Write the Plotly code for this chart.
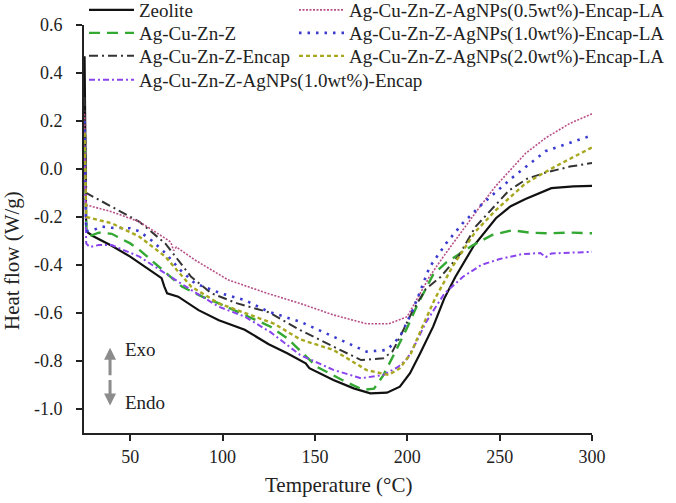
import plotly.graph_objects as go

# ---------------- data ----------------
zeolite_T = [25.3, 25.6, 26.2, 30, 40, 50, 60, 67, 68.5, 70, 76, 87, 98, 112, 125, 135, 145, 147, 160, 171, 180, 189, 196, 201.5, 207, 214, 220, 226, 236, 248, 256, 264, 278, 290, 300]
zeolite_V = [0.47, 0.1, -0.26, -0.28, -0.32, -0.365, -0.42, -0.455, -0.49, -0.518, -0.532, -0.588, -0.63, -0.67, -0.73, -0.768, -0.81, -0.83, -0.879, -0.914, -0.935, -0.932, -0.907, -0.851, -0.768, -0.657, -0.54, -0.45, -0.32, -0.205, -0.155, -0.125, -0.08, -0.072, -0.07]

agcuzn_T = [25.3, 25.7, 26.3, 28, 33, 40, 50, 55, 65, 78, 89, 98, 112, 126, 135, 151, 165, 176, 182, 187, 193, 200, 205, 214, 221, 235, 246, 257, 266, 277, 288, 300]
agcuzn_V = [0.16, -0.05, -0.27, -0.28, -0.265, -0.27, -0.31, -0.337, -0.405, -0.49, -0.532, -0.56, -0.608, -0.657, -0.705, -0.824, -0.88, -0.92, -0.915, -0.86, -0.77, -0.66, -0.574, -0.44, -0.39, -0.32, -0.275, -0.255, -0.265, -0.268, -0.265, -0.268]

encap_T = [25.3, 25.7, 26.2, 40, 55, 69, 76, 83, 94, 108, 125, 142, 160, 175, 187, 192, 196, 203, 210, 218, 228, 237, 255, 265, 275, 288, 300]
encap_V = [0.3, 0.05, -0.10, -0.157, -0.22, -0.31, -0.38, -0.449, -0.518, -0.56, -0.597, -0.671, -0.74, -0.796, -0.789, -0.76, -0.70, -0.59, -0.50, -0.45, -0.36, -0.24, -0.09, -0.04, -0.015, 0.01, 0.025]

agnps_T = [25.3, 25.7, 26.2, 28, 33, 40, 55, 69, 83, 98, 112, 126, 142, 160, 175, 187, 195, 200, 205, 210, 220, 230, 240, 250, 262, 272, 275, 278, 290, 300]
agnps_V = [0.05, -0.1, -0.31, -0.325, -0.317, -0.317, -0.365, -0.435, -0.504, -0.574, -0.615, -0.68, -0.775, -0.837, -0.872, -0.858, -0.825, -0.79, -0.72, -0.64, -0.52, -0.45, -0.40, -0.375, -0.355, -0.35, -0.367, -0.352, -0.347, -0.345]

la05_T = [25.3, 25.7, 26.2, 40, 55, 69, 72, 73.5, 75, 85, 103, 125, 142, 160, 178, 190, 200, 207, 212, 220, 230, 240, 248, 264, 275, 288, 300]
la05_V = [0.23, 0.0, -0.15, -0.178, -0.22, -0.289, -0.305, -0.34, -0.325, -0.379, -0.462, -0.52, -0.56, -0.608, -0.645, -0.645, -0.615, -0.518, -0.449, -0.36, -0.254, -0.15, -0.07, 0.065, 0.13, 0.19, 0.23]

la10_T = [25.3, 25.7, 26.2, 30, 35, 40, 50, 55, 62, 69, 77, 85, 99, 112, 125, 142, 160, 178, 189, 196, 203, 212, 221, 230, 240, 257, 275, 288, 300]
la10_V = [0.2, -0.05, -0.26, -0.254, -0.24, -0.245, -0.247, -0.26, -0.30, -0.35, -0.42, -0.476, -0.518, -0.546, -0.595, -0.636, -0.699, -0.761, -0.754, -0.699, -0.588, -0.41, -0.31, -0.226, -0.15, -0.035, 0.075, 0.11, 0.14]

la20_T = [25.3, 25.7, 26.2, 40, 55, 69, 83, 98, 112, 128, 142, 160, 178, 190, 196, 202, 208, 215, 225, 237, 248, 264, 280, 300]
la20_V = [0.15, -0.02, -0.2, -0.226, -0.282, -0.365, -0.49, -0.56, -0.601, -0.645, -0.71, -0.754, -0.838, -0.858, -0.83, -0.768, -0.66, -0.54, -0.40, -0.26, -0.171, -0.06, 0.01, 0.09]

x_ticks = [50, 100, 150, 200, 250, 300]
y_ticks = [-1.0, -0.8, -0.6, -0.4, -0.2, 0.0, 0.2, 0.4, 0.6]
y_ticktext = ["-1.0", "-0.8", "-0.6", "-0.4", "-0.2", "0.0", "0.2", "0.4", "0.6"]

FONT = "Liberation Serif"

series = [
    ("Zeolite", zeolite_T, zeolite_V, "#111111", "solid", 2.2, "legend"),
    ("Ag-Cu-Zn-Z", agcuzn_T, agcuzn_V, "#33a833", "11px,7px", 2.4, "legend2"),
    ("Ag-Cu-Zn-Z-Encap", encap_T, encap_V, "#333333", "9px,4px,2px,4px", 2.0, "legend3"),
    ("Ag-Cu-Zn-Z-AgNPs(1.0wt%)-Encap", agnps_T, agnps_V, "#8a44ee", "6px,3px,2px,3px", 2.0, "legend4"),
    ("Ag-Cu-Zn-Z-AgNPs(0.5wt%)-Encap-LA", la05_T, la05_V, "#b85088", "2px,1.5px", 1.6, "legend5"),
    ("Ag-Cu-Zn-Z-AgNPs(1.0wt%)-Encap-LA", la10_T, la10_V, "#3a3ad0", "2.5px,6px", 2.6, "legend6"),
    ("Ag-Cu-Zn-Z-AgNPs(2.0wt%)-Encap-LA", la20_T, la20_V, "#a8a820", "4px,3px", 2.4, "legend7"),
]

fig = go.Figure()
for name, t, v, color, dash, w, lg in series:
    fig.add_trace(go.Scatter(x=t, y=v, mode="lines", name=name,
                             line=dict(color=color, dash=dash, width=w),
                             legend=lg, showlegend=True))

# plot-area geometry in pixels
L = 84; T0 = 25; PW = 508; PH = 408
def px(xp):
    return (xp - L) / PW
def py(yp):
    return (T0 + PH - yp) / PH

leg_common = dict(bgcolor="rgba(0,0,0,0)", borderwidth=0,
                  font=dict(family=FONT, size=19, color="#222"),
                  itemwidth=45, xanchor="left", yanchor="middle")
legend_pos = {
    "legend": (84, 10), "legend2": (84, 33), "legend3": (84, 56), "legend4": (84, 80),
    "legend5": (294, 10), "legend6": (294, 33), "legend7": (294, 56),
}
legend_layout = {}
for k, (xx, yy) in legend_pos.items():
    legend_layout[k] = dict(x=px(xx), y=py(yy), **leg_common)

fig.update_layout(
    width=676, height=503,
    margin=dict(l=L, r=676 - L - PW, t=T0, b=503 - T0 - PH, autoexpand=False),
    paper_bgcolor="white", plot_bgcolor="white",
    font=dict(family=FONT, size=18, color="#222"),
    **legend_layout,
)
fig.update_xaxes(range=[25, 300], tickvals=x_ticks, showgrid=False, zeroline=False,
                 showline=True, linecolor="#222", linewidth=2, ticks="outside",
                 ticklen=6, tickwidth=2, tickcolor="#222",
                 tickfont=dict(family=FONT, size=18, color="#222"))
fig.update_yaxes(range=[-1.1, 0.6], tickvals=y_ticks, ticktext=y_ticktext,
                 showgrid=False, zeroline=False,
                 showline=True, linecolor="#222", linewidth=2, ticks="outside",
                 ticklen=6, tickwidth=2, tickcolor="#222", ticklabelstandoff=10,
                 tickfont=dict(family=FONT, size=18, color="#222"))

# axis titles
fig.add_annotation(text="Temperature (\u00b0C)", xref="paper", yref="paper",
                   x=0.5, y=py(485), xanchor="center", yanchor="middle",
                   showarrow=False, font=dict(family=FONT, size=21, color="#222"))
fig.add_annotation(text="Heat flow (W/g)", xref="paper", yref="paper",
                   x=px(12), y=py(261), xanchor="center", yanchor="middle",
                   textangle=-90, showarrow=False,
                   font=dict(family=FONT, size=21, color="#222"))

# Exo / Endo arrows
fig.add_annotation(x=39.1, y=-0.745, text="", showarrow=True, ax=0, ay=29,
                   arrowhead=2, arrowsize=0.8, arrowwidth=3, arrowcolor="#8c8c8c")
fig.add_annotation(x=39.1, y=-0.985, text="", showarrow=True, ax=0, ay=-27,
                   arrowhead=2, arrowsize=0.8, arrowwidth=3, arrowcolor="#8c8c8c")
fig.add_annotation(x=46.1, y=-0.75, text="Exo", showarrow=False, xanchor="left",
                   yanchor="middle", font=dict(family=FONT, size=19, color="#222"))
fig.add_annotation(x=46.1, y=-0.972, text="Endo", showarrow=False, xanchor="left",
                   yanchor="middle", font=dict(family=FONT, size=19, color="#222"))

# remove the browser's default 8px body margin so the figure sits at the page origin
fig.write_html("out.html", config={"displayModeBar": False},
               post_script="document.body.style.margin='0';")
